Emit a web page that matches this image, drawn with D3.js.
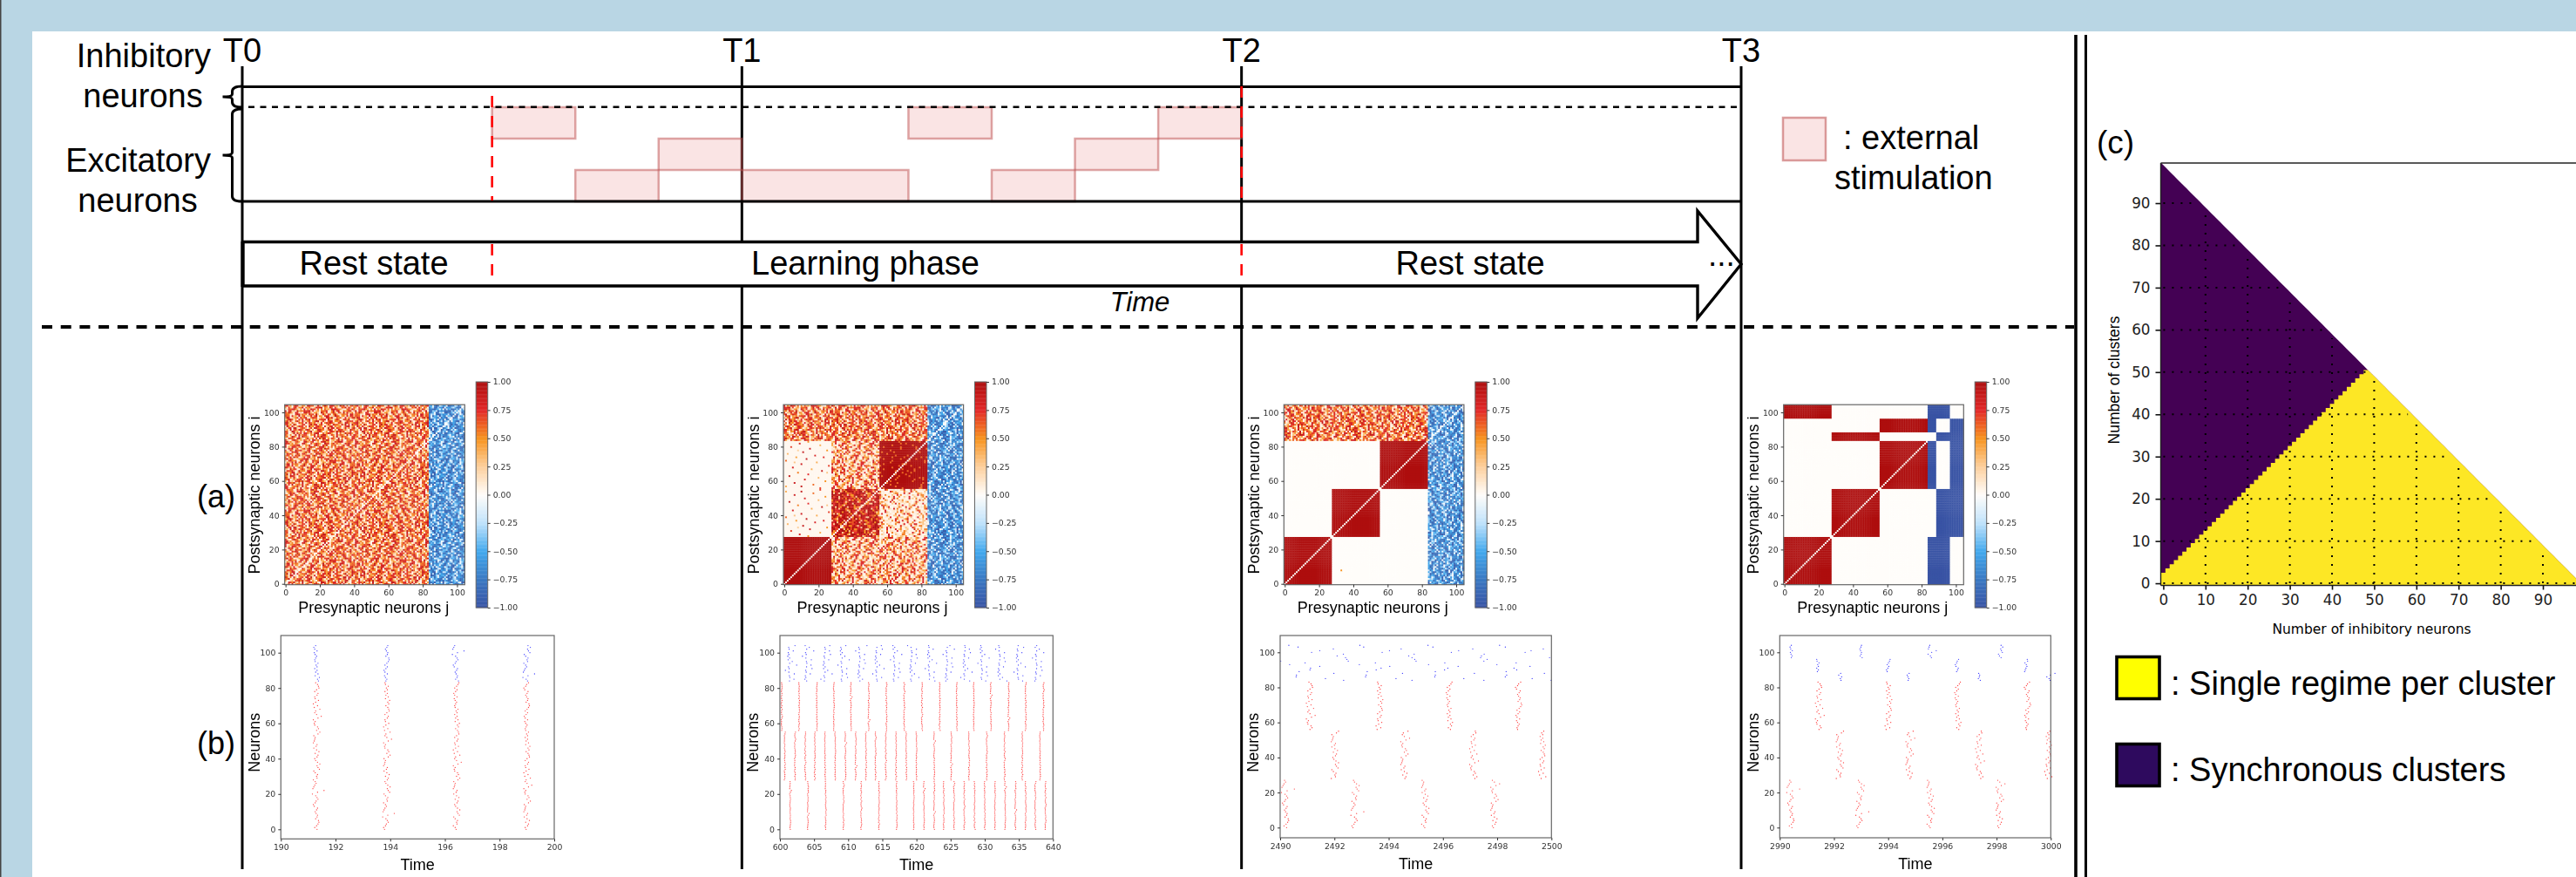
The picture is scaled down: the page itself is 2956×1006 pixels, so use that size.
<!DOCTYPE html>
<meta charset="utf-8">
<style type="text/css">
  html, body { margin: 0; padding: 0; background: #fff; overflow: hidden; }
  svg { display: block; }
</style>
<body></body>
<script src="https://d3js.org/d3.v7.min.js"></script>
<script>

// ---- values ----

var timeMarks = ["T0", "T1", "T2", "T3"];
var timeMarkSteps = [0, 6, 12, 18];
var learningBounds = [3, 12];                // red dashed lines, in steps
var stimRowTop = [[3, 4], [8, 9], [11, 12]];
var stimRowMid = [[5, 6], [10, 11]];
var stimRowLow = [[4, 5], [6, 8], [9, 10]];

var cbarTicks = [-1, -0.75, -0.5, -0.25, 0, 0.25, 0.5, 0.75, 1];
var cbarStops = ["#3953a4", "#3a78c2", "#42a9ee", "#bfe2fb", "#fffdfa", "#fdcf9c", "#f7931e", "#e2292a", "#ae1110"];
var neuronTicks = [0, 20, 40, 60, 80, 100];

// connectivity blocks. number = constant weight, letter = kind of noise
var groups3 = [28, 28, 28, 21];
var groups6 = [28, 28, 28, 5, 8, 8];
var blocksA = [["E", "E", "E", "B"], ["E", "E", "E", "B"], ["E", "E", "E", "B"], ["E", "E", "E", "B"]];
var blocksB = [[1, "M", "M", "B"], ["S", "D", "L", "B"], ["S", "M", "F", "B"], ["E", "E", "E", "B"]];
var blocksC = [[1, 0, 0, "B"], [0, 1, 0, "B"], [0, 0, 1, "B"], ["E", "E", "E", "B"]];
var blocksD = [
  [1, 0, 0, -1, -1, 0],
  [0, 1, 0, 0, -1, -1],
  [0, 0, 1, -1, 0, -1],
  [0, 1, 0, 0, -1, -1],
  [0, 0, 1, -1, 0, -1],
  [1, 0, 0, -1, -1, 0]
];
var straysC = [[8, 33, 0.5]];

// weights that one texture digit stands for, per kind of noise
var levelsE = [0.03, 0.1, 0.2, 0.32, 0.44, 0.54, 0.62, 0.7, 0.8, 0.9];
var levelsB = [-0.04, -0.2, -0.34, -0.44, -0.52, -0.6, -0.68, -0.76, -0.84, -0.94];
var levelsM = [0.03, 0.05, 0.08, 0.12, 0.2, 0.3, 0.45, 0.6, 0.75, 0.85];
var levelsL = [0.02, 0.03, 0.05, 0.06, 0.08, 0.1, 0.15, 0.3, 0.55, 0.8];
var levelsD = [1, 1, 1, 0.95, 0.9, 0.85, 0.75, 0.65, 0.5, 0.25];
var levelsF = [1, 1, 1, 1, 1, 1, 1, 1, 1, 0.6];

// red specks on the pale blocks of the second heatmap: row, column, weight inside the block
var specks = [[1, 9, 0.8], [2, 21, 0.4], [3, 4, 0.7], [4, 15, 0.85], [5, 25, 0.5], [6, 11, 0.9], [7, 2, 0.35], [8, 18, 0.8], [9, 7, 0.45], [9, 23, 0.75], [10, 13, 0.9], [11, 1, 0.6], [12, 19, 0.4], [13, 10, 0.85], [14, 26, 0.7], [15, 5, 0.8], [16, 16, 0.4], [17, 22, 0.9], [18, 8, 0.55], [19, 14, 0.75], [20, 3, 0.9], [21, 20, 0.35], [22, 12, 0.8], [23, 24, 0.5], [24, 6, 0.85], [25, 17, 0.6], [26, 1, 0.4], [26, 10, 0.9], [27, 21, 0.7], [0, 14, 0.5], [12, 6, 0.3], [5, 8, 0.25], [18, 25, 0.3]];

// hand typed stand-in for the cell noise, too fine to be read cell by cell from the picture
var noiseTile = [
  "82719046638157204996371845027763918205147",
  "17768302945518860273199640752381496027385",
  "60482957113706824519978312646095528713704",
  "97735164208941073586420977158363402869511",
  "24190673885279614038865126970418773520966",
  "76608341925703382691540798123976045182873",
  "13957082664818190475376620849532179680245",
  "88246715090367251894907163385124980476713",
  "59071938246681473027528849610773206915386",
  "30785460197295018666143072987856491328709",
  "91428873650142796503889415260637785014962",
  "67013928471885362799016358742190623957841",
  "25896140738076914352677809431586017749023",
  "78340697125409866128305961787342958160674",
  "04675218996723054987142086359810476225398",
  "96152830467188392074568917403675129908713",
  "38907465214950671482039276815463897021566",
  "71284096683327815960784160329587046713925",
  "56039741829664120838597743016292385640178",
  "89416320757092864613280586974117630985247",
  "12768953040815397726051634298875421067396",
  "65097284131746029581369702845130986754218",
  "40823176959368714205874319660527143892067",
  "97351802646029588134206785119648075321894",
  "28674039517841263097953240876186957402635",
  "83106975242753609846117598034269381065772",
  "09528314877160945278640823791534602789146",
  "74963087120896731452096371258407619283350",
  "36217549688402176938775014963852074196821"
];

// spike times
var burstsA = [191.29, 193.86, 196.41, 198.99];
var burstsB1 = [601.5, 604.1, 606.7, 609.3, 611.9, 614.5, 617.1, 619.6, 621.1, 622.6, 624, 625.5, 627, 628.5, 630, 631.5, 633, 634.5, 636, 637.4, 638.9];
var burstsB2 = [600.7, 602.2, 603.7, 605.1, 606.6, 608.1, 609.6, 611.1, 612.6, 614, 615.5, 617, 618.5, 620, 622.6, 625.1, 627.7, 630.3, 632.9, 635.5, 638.1];
var burstsB3 = [600.25, 602.8, 605.4, 607.9, 610.4, 613, 615.6, 618.2, 620.8, 623.4, 625.9, 628.4, 630.9, 633.5, 636, 638.6];
var burstsBI = [601.5, 604, 606.7, 609.2, 611.8, 614.3, 616.9, 619.4, 622, 624.6, 627.2, 629.7, 632.3, 635, 637.7];
var burstsC1 = [2490.2, 2492.76, 2495.33, 2497.88];
var burstsC2 = [2492, 2494.56, 2497.1, 2499.64];
var burstsC3 = [2491.08, 2493.65, 2496.22, 2498.79];
var burstsD1 = [2990.41, 2992.96, 2995.55, 2998.1];
var burstsD2 = [2992.2, 2994.77, 2997.34, 2999.89];
var burstsD3 = [2991.43, 2994, 2996.55, 2999.14];
var burstsDI1 = [2992.2, 2994.75, 2997.34, 2999.95];
var burstsDI2 = [2991.4, 2994, 2996.55, 2999.12];
var burstsDI3 = [2990.44, 2992.98, 2995.57, 2998.13];

// lone inhibitory spikes of the third raster, neuron 84 upwards, seconds after 2490
var spikesCI = [
  [2.34, 4.86, 7.51, 9.99], [1.67, 4.27, 6.77, 9.29], [0.59, 3.15, 5.7, 8.3], [0.6, 3.17, 5.72, 8.35],
  [1.98, 4.51, 7.16, 9.74], [0.7, 3.21, 5.72, 8.33], [1.1, 3.54, 6.06, 8.72], [1.12, 3.72, 6.18, 8.62],
  [1.46, 4.04, 6.56, 9.21], [0.35, 2.92, 5.47, 7.99], [0.92, 3.51, 6.07, 8.7], [0.02, 2.51, 5.01, 7.51],
  [2.46, 4.96, 7.63], [2.41, 4.86, 7.39, 9.93], [2.1, 4.74, 7.42], [2.33, 4.94, 7.52],
  [1.16, 3.76, 6.31, 9.03], [1.46, 4.03, 6.58, 9.25], [1.96, 4.46, 7.1, 9.7], [0.66, 3.08, 5.63, 8.3],
  [0.32, 2.94, 5.45, 8.09]
];

// spread of a neuron inside a burst, hundredths of a time unit
var jitterE = [2, -3, 1, 4, 6, 5, -1, 2, 3, 0, -2, 1, 3, -4, -6, -2, 0, 4, 2, -1, -8, 3, 17, -7, -5, -3, 0, -2, -6, 2, 1, 3, -2, -5, 7, 4, 2, 8, 3, -1, -3, 2, 4, -2, 6, 1, -5, 0, 2, -6, -4, -3, -2, -5, 4, 8, 1, 5, 3, -3, -4, -2, -6, 4, 11, 1, -3, -1, 8, -4, 3, -6, -1, 5, -2, -3, 2, 4, -3, 1, 6, 5, 3, -1, 5, 3, 7, -2, 4, -1, 2, -3, 2, 0, 4, -2, -3, -1, 1, -2, -4, 2, -3, -5, -1];
var jitterI = [-10, 55, -5, -12, 60, -20, -70, -15, -25, 95, -8, 30, -30, -8, -35, -20, -28, 45, -15, -22, 70];

// regime map: top of the yellow part and top of the whole column, inhibitory neurons 0 upwards
var regimeYellowTop = [1, 2, 3, 4, 5, 6, 7, 8, 9, 10, 11, 12, 13, 14, 15, 16, 17, 18, 19, 20, 21, 22, 23, 24, 25, 26, 27, 28, 29, 30, 31, 32, 33, 34, 35, 36, 37, 38, 39, 40, 41, 42, 43, 44, 45, 46, 47, 48, 49, 50, 51, 51, 51, 51, 51, 51, 51, 51, 51, 51, 51, 51, 51, 51, 51, 51, 51, 51, 51, 51, 51, 51, 51, 51, 51, 51, 51, 51, 51, 51, 51, 51, 51, 51, 51, 51, 51, 51, 51, 51, 51, 51, 51, 51, 51, 51, 51, 51, 51, 51];
var regimeColumnTop = [99, 98, 97, 96, 95, 94, 93, 92, 91, 90, 89, 88, 87, 86, 85, 84, 83, 82, 81, 80, 79, 78, 77, 76, 75, 74, 73, 72, 71, 70, 69, 68, 67, 66, 65, 64, 63, 62, 61, 60, 59, 58, 57, 56, 55, 54, 53, 52, 51, 50, 49, 48, 47, 46, 45, 44, 43, 42, 41, 40, 39, 38, 37, 36, 35, 34, 33, 32, 31, 30, 29, 28, 27, 26, 25, 24, 23, 22, 21, 20, 19, 18, 17, 16, 15, 14, 13, 12, 11, 10, 9, 8, 7, 6, 5, 4, 3, 2, 1, 0];
var regimeTicks = [0, 10, 20, 30, 40, 50, 60, 70, 80, 90];

// ---- page ----

var W = 2956, H = 1006;
var SANS = "'Liberation Sans', Arial, sans-serif";
var DEJA = "'DejaVu Sans', sans-serif";

var svg = d3.select("body").append("svg").attr("width", W).attr("height", H);

svg.append("rect").attr("width", W).attr("height", H).attr("fill", "#b9d6e4");
svg.append("rect").attr("x", 37).attr("y", 36).attr("width", W - 37).attr("height", H - 36).attr("fill", "#fff");
svg.append("rect").attr("width", 1.5).attr("height", H).attr("fill", "#444");

var defs = svg.append("defs");
defs.append("filter").attr("id", "soft").attr("x", "-5%").attr("y", "-5%").attr("width", "110%").attr("height", "110%")
  .append("feGaussianBlur").attr("stdDeviation", 0.5);

function label(g, txt, x, y, size, opts) {
  opts = opts || {};
  var t = g.append("text").attr("x", x).attr("y", y).text(txt)
    .attr("font-family", opts.family || SANS).attr("font-size", size)
    .attr("text-anchor", opts.anchor || "start").attr("fill", "#000");
  if (opts.italic) t.attr("font-style", "italic");
  if (opts.rotate) t.attr("transform", "rotate(-90," + x + "," + y + ")");
  return t;
}

// ---- timeline ----

var tx = d3.scaleLinear().domain([0, 18]).range([278, 1998]);
var rowY = d3.scaleLinear().domain([0, 3]).range([123, 231]);

var top_ = svg.append("g");

timeMarks.forEach(function (m, i) {
  var x = tx(timeMarkSteps[i]);
  label(top_, m, x, 71, 38, { anchor: "middle" });
  top_.append("line").attr("x1", x).attr("x2", x).attr("y1", 76).attr("y2", 997)
    .attr("stroke", "#000").attr("stroke-width", 3);
});

// stimulation boxes
[stimRowTop, stimRowMid, stimRowLow].forEach(function (row, r) {
  top_.selectAll("rect.stim-" + r).data(row).enter().append("rect")
    .attr("class", "stim-" + r)
    .attr("x", function (d) { return tx(d[0]); })
    .attr("width", function (d) { return tx(d[1]) - tx(d[0]); })
    .attr("y", rowY(r))
    .attr("height", rowY(r + 1) - rowY(r))
    .attr("fill", "rgba(232,120,120,0.2)")
    .attr("stroke", "rgba(190,80,80,0.5)")
    .attr("stroke-width", 2.5);
});

top_.append("line").attr("x1", 278).attr("x2", 1998).attr("y1", 99.5).attr("y2", 99.5).attr("stroke", "#000").attr("stroke-width", 3.2);
top_.append("line").attr("x1", 278).attr("x2", 1998).attr("y1", 231).attr("y2", 231).attr("stroke", "#000").attr("stroke-width", 3.2);
top_.append("line").attr("x1", 285).attr("x2", 1998).attr("y1", 122.7).attr("y2", 122.7)
  .attr("stroke", "#000").attr("stroke-width", 2.6).attr("stroke-dasharray", "7 6.5");

// braces
function brace(y0, y1) {
  var x = 266.5, m = (y0 + y1) / 2;
  return "M" + (x + 11) + "," + y0 + " Q" + x + "," + y0 + " " + x + "," + (y0 + 6) +
    " L" + x + "," + (m - 3) + " Q" + x + "," + m + " " + (x - 11) + "," + m +
    " Q" + x + "," + m + " " + x + "," + (m + 3) +
    " L" + x + "," + (y1 - 6) + " Q" + x + "," + y1 + " " + (x + 11) + "," + y1;
}
top_.append("path").attr("d", brace(99, 123)).attr("fill", "none").attr("stroke", "#000").attr("stroke-width", 3);
top_.append("path").attr("d", brace(125, 231)).attr("fill", "none").attr("stroke", "#000").attr("stroke-width", 3);

label(top_, "Inhibitory", 242, 77, 38, { anchor: "end" });
label(top_, "neurons", 164, 123, 38, { anchor: "middle" });
label(top_, "Excitatory", 242, 197, 38, { anchor: "end" });
label(top_, "neurons", 158, 243, 38, { anchor: "middle" });

// big arrow
top_.append("path")
  .attr("d", "M279,277.5 L1948,277.5 L1948,242 L1998,303 L1948,365 L1948,328 L279,328 Z")
  .attr("fill", "#fff").attr("stroke", "#000").attr("stroke-width", 3.4);

learningBounds.forEach(function (s) {
  var x = tx(s);
  var upper = s === 3 ? 110 : 99;
  top_.append("line").attr("x1", x).attr("x2", x).attr("y1", upper).attr("y2", 230)
    .attr("stroke", "#f00").attr("stroke-width", 2.6).attr("stroke-dasharray", "13 10");
  top_.append("line").attr("x1", x).attr("x2", x).attr("y1", 280).attr("y2", 326)
    .attr("stroke", "#f00").attr("stroke-width", 2.6).attr("stroke-dasharray", "13 10");
});

label(top_, "Rest state", 429, 315, 38, { anchor: "middle" });
label(top_, "Learning phase", 993, 315, 38, { anchor: "middle" });
label(top_, "Rest state", 1687, 315, 38, { anchor: "middle" });
label(top_, "...", 1960, 305, 37);
label(top_, "Time", 1308, 357, 31, { anchor: "middle", italic: true });

// T0 stays on top of the arrow's left edge
top_.append("line").attr("x1", 278).attr("x2", 278).attr("y1", 277).attr("y2", 329).attr("stroke", "#000").attr("stroke-width", 3);

top_.append("line").attr("x1", 48).attr("x2", 2380).attr("y1", 375).attr("y2", 375)
  .attr("stroke", "#000").attr("stroke-width", 4).attr("stroke-dasharray", "12 9.7");

// legend of the stimulation
top_.append("rect").attr("x", 2046).attr("y", 135).attr("width", 49).attr("height", 49)
  .attr("fill", "rgba(232,120,120,0.2)").attr("stroke", "rgba(190,80,80,0.55)").attr("stroke-width", 2.5);
label(top_, ": external", 2115, 171, 38);
label(top_, "stimulation", 2105, 217, 38);

// double separator
[2382, 2393.5].forEach(function (x, i) {
  svg.append("line").attr("x1", x).attr("x2", x).attr("y1", 40).attr("y2", H)
    .attr("stroke", "#000").attr("stroke-width", i ? 3 : 3.6);
});

label(svg, "(a)", 226, 582, 36);
label(svg, "(b)", 226, 865, 36);
label(svg, "(c)", 2406, 176, 37);

// ---- connectivity heatmaps ----

var weightColor = d3.scaleLinear().domain(cbarTicks).range(cbarStops);
var noiseLevels = { E: levelsE, B: levelsB, M: levelsM, L: levelsL, D: levelsD, F: levelsF };
var speckWeight = new Map(specks.map(function (s) { return [s[0] + "," + s[1], s[2]]; }));

function styleAxis(g) {
  g.select(".domain").remove();
  g.selectAll("line").attr("stroke", "#333").attr("stroke-width", 1);
  g.selectAll("text").attr("font-family", DEJA).attr("font-size", 9.3).attr("fill", "#333");
}

function weightAt(groups, blocks, i, j, shift) {
  var r = 0, c = 0, acc = groups[0];
  while (i >= acc) { acc += groups[++r]; }
  acc = groups[0];
  while (j >= acc) { acc += groups[++c]; }
  var b = blocks[r][c];
  if (typeof b === "number") return b;
  if (b === "S") {
    // the upper pale block is the speck list turned upside down
    var local = r === 2 ? 27 - (i % 28) : i % 28;
    return speckWeight.get(local + "," + (j % 28)) || 0.03;
  }
  // rows of the tile are taken out of order and every other one backwards, so no streaks show
  var row = noiseTile[(i * 11 + shift * 7) % noiseTile.length];
  var k = (j + shift * 11) % row.length;
  return noiseLevels[b][+row[i % 2 ? row.length - 1 - k : k]];
}

function heatmap(left, groups, blocks, shift, strays) {
  var g = svg.append("g").attr("filter", "url(#soft)");
  var x = d3.scaleLinear().domain([-0.5, 104.5]).range([left, left + 206.6]);
  var y = d3.scaleLinear().domain([-0.5, 104.5]).range([670.7, 464.2]);

  var cells = [];
  d3.range(105).forEach(function (i) {
    d3.range(105).forEach(function (j) {
      cells.push({ i: i, j: j, w: i === j ? 0 : weightAt(groups, blocks, i, j, shift) });
    });
  });
  (strays || []).forEach(function (s) { cells[s[0] * 105 + s[1]].w = s[2]; });

  g.selectAll("rect.cell").data(cells).enter().append("rect")
    .attr("class", "cell")
    .attr("x", function (d) { return x(d.j - 0.5); })
    .attr("y", function (d) { return y(d.i + 0.5); })
    .attr("width", x(1) - x(0) + 0.3)
    .attr("height", y(0) - y(1) + 0.3)
    .attr("fill", function (d) { return weightColor(d.w); });

  g.append("rect").attr("x", left).attr("y", 464.2).attr("width", 206.6).attr("height", 206.5)
    .attr("fill", "none").attr("stroke", "#666").attr("stroke-width", 1.2);

  g.append("g").attr("transform", "translate(0,670.7)")
    .call(d3.axisBottom(x).tickValues(neuronTicks).tickSize(3).tickPadding(3)).call(styleAxis);
  g.append("g").attr("transform", "translate(" + left + ",0)")
    .call(d3.axisLeft(y).tickValues(neuronTicks).tickSize(3).tickPadding(3)).call(styleAxis);

  label(g, "Presynaptic neurons j", left + 102, 703, 18, { anchor: "middle" });
  label(g, "Postsynaptic neurons i", left - 28.5, 568, 18, { anchor: "middle", rotate: true });

  // colour bar
  var cbX = left + 219.5, cbW = 13.5;
  var cb = d3.scaleLinear().domain([-1, 1]).range([697, 438]);
  g.selectAll("rect.cb").data(d3.range(-1, 1, 0.01)).enter().append("rect")
    .attr("class", "cb")
    .attr("x", cbX).attr("width", cbW)
    .attr("y", function (d) { return cb(d + 0.01); })
    .attr("height", cb(0) - cb(0.01) + 0.4)
    .attr("fill", function (d) { return weightColor(d + 0.005); });
  g.append("rect").attr("x", cbX).attr("y", 438).attr("width", cbW).attr("height", 259)
    .attr("fill", "none").attr("stroke", "#666").attr("stroke-width", 1);
  g.append("g").attr("transform", "translate(" + (cbX + cbW) + ",0)")
    .call(d3.axisRight(cb).tickValues(cbarTicks).tickFormat(d3.format(".2f")).tickSize(3).tickPadding(3)).call(styleAxis);
}

heatmap(326.7, groups3, blocksA, 0);
heatmap(899, groups3, blocksB, 1);
heatmap(1473.3, groups3, blocksC, 2, straysC);
heatmap(2046.7, groups6, blocksD, 3);

// ---- rasters ----

function burstSpikes(times, lo, hi, jitter, kind, spread) {
  var out = [];
  times.forEach(function (t, k) {
    d3.range(lo, hi + 1).forEach(function (n) {
      var offs = jitter[(n + k * 13) % jitter.length] / 100 * (spread || 1);
      out.push({ t: t + offs, n: n, kind: kind });
    });
  });
  return out;
}

function raster(opts) {
  var g = svg.append("g").attr("filter", "url(#soft)");
  var x = d3.scaleLinear().domain(opts.domain).range([opts.left, opts.right]);
  var y = d3.scaleLinear().domain([0, 100]).range([opts.y0, opts.y100]);

  g.selectAll("circle").data(opts.spikes).enter().append("circle")
    .attr("cx", function (d) { return x(d.t); })
    .attr("cy", function (d) { return y(d.n); })
    .attr("r", 0.65)
    .attr("fill", function (d) { return d.kind === "i" ? "#0000ff" : "#ff0000"; })
    .attr("fill-opacity", 0.75);

  g.append("rect").attr("x", opts.left).attr("y", 729)
    .attr("width", opts.right - opts.left).attr("height", opts.bottom - 729)
    .attr("fill", "none").attr("stroke", "#666").attr("stroke-width", 1.2);

  g.append("g").attr("transform", "translate(0," + opts.bottom + ")")
    .call(d3.axisBottom(x).tickValues(opts.ticks).tickFormat(d3.format("d")).tickSize(3).tickPadding(3)).call(styleAxis);
  g.append("g").attr("transform", "translate(" + opts.left + ",0)")
    .call(d3.axisLeft(y).tickValues(neuronTicks).tickSize(3).tickPadding(3)).call(styleAxis);

  label(g, "Time", (opts.left + opts.right) / 2 + 0, opts.bottom + 35.5, 18, { anchor: "middle" });
  label(g, "Neurons", opts.left - 24.5, 851.7, 18, { anchor: "middle", rotate: true });
}

raster({
  left: 322.3, right: 636, bottom: 962.3, y0: 951.3, y100: 748.7,
  domain: [190, 200], ticks: [190, 192, 194, 196, 198, 200],
  spikes: burstSpikes(burstsA, 0, 83, jitterE, "e", 1.7).concat(burstSpikes(burstsA, 84, 104, jitterE, "i", 1.7))
});

raster({
  left: 895, right: 1208.3, bottom: 962.3, y0: 951.3, y100: 748.7,
  domain: [600, 640], ticks: [600, 605, 610, 615, 620, 625, 630, 635, 640],
  spikes: burstSpikes(burstsB1, 0, 27, jitterE, "e")
    .concat(burstSpikes(burstsB2, 28, 55, jitterE, "e"))
    .concat(burstSpikes(burstsB3, 56, 83, jitterE, "e"))
    .concat(burstSpikes(burstsBI, 84, 104, jitterI, "i"))
});

var rasterCI = [];
spikesCI.forEach(function (times, k) {
  times.forEach(function (t) { rasterCI.push({ t: 2490 + t, n: 84 + k, kind: "i" }); });
});

raster({
  left: 1469, right: 1780.3, bottom: 961, y0: 949.3, y100: 748.3,
  domain: [2490, 2500], ticks: [2490, 2492, 2494, 2496, 2498, 2500],
  spikes: burstSpikes(burstsC1, 0, 27, jitterE, "e", 1.9)
    .concat(burstSpikes(burstsC2, 28, 55, jitterE, "e", 1.9))
    .concat(burstSpikes(burstsC3, 56, 83, jitterE, "e", 1.9))
    .concat(rasterCI)
});

raster({
  left: 2042.3, right: 2353.3, bottom: 961, y0: 949.3, y100: 748.3,
  domain: [2990, 3000], ticks: [2990, 2992, 2994, 2996, 2998, 3000],
  spikes: burstSpikes(burstsD1, 0, 27, jitterE, "e", 1.9)
    .concat(burstSpikes(burstsD2, 28, 55, jitterE, "e", 1.9))
    .concat(burstSpikes(burstsD3, 56, 83, jitterE, "e", 1.9))
    .concat(burstSpikes(burstsDI1, 84, 88, jitterE, "i", 1.2))
    .concat(burstSpikes(burstsDI2, 89, 96, jitterE, "i", 1.2))
    .concat(burstSpikes(burstsDI3, 97, 104, jitterE, "i", 1.2))
});

// ---- regime map ----

var rx = d3.scaleLinear().domain([-0.5, 99.5]).range([2480, 2964]);
var ry = d3.scaleLinear().domain([-0.5, 99.5]).range([671.5, 187]);
var reg = svg.append("g");

// whole triangle has a clean slanted edge, the regime split inside it is stepped
var wholeArea = d3.area()
  .x(function (d, i) { return rx(i - 0.5); })
  .y0(ry(-0.5))
  .y1(function (d) { return ry(d + 0.5); });
var splitArea = d3.area()
  .curve(d3.curveStepBefore)
  .x(function (d, i) { return rx(i - 0.5); })
  .y0(ry(-0.5))
  .y1(function (d) { return ry(d + 0.5); });

defs.append("clipPath").attr("id", "triangle").append("path").attr("d", wholeArea(regimeColumnTop));

reg.append("path").attr("d", wholeArea(regimeColumnTop)).attr("fill", "#440154");
reg.append("path").attr("d", splitArea(regimeYellowTop)).attr("fill", "#fde725")
  .attr("clip-path", "url(#triangle)");

// dotted grid stays inside the triangle
regimeTicks.forEach(function (k) {
  var top = regimeColumnTop[k];
  reg.append("line").attr("x1", rx(0)).attr("x2", rx(top - 1)).attr("y1", ry(k)).attr("y2", ry(k))
    .attr("stroke", "#000").attr("stroke-width", 2).attr("stroke-dasharray", "2 8");
  if (k > 0) {
    reg.append("line").attr("x1", rx(k)).attr("x2", rx(k)).attr("y1", ry(0)).attr("y2", ry(top - 1))
      .attr("stroke", "#000").attr("stroke-width", 2).attr("stroke-dasharray", "2 8");
  }
});

reg.append("line").attr("x1", 2479.5).attr("x2", W).attr("y1", 187).attr("y2", 187).attr("stroke", "#222").attr("stroke-width", 1.6);
reg.append("line").attr("x1", 2479.5).attr("x2", 2479.5).attr("y1", 187).attr("y2", 671.5).attr("stroke", "#222").attr("stroke-width", 1.4);
reg.append("line").attr("x1", 2479.5).attr("x2", W).attr("y1", 671.5).attr("y2", 671.5).attr("stroke", "#222").attr("stroke-width", 1.4);

function styleRegAxis(g) {
  g.select(".domain").remove();
  g.selectAll("line").attr("stroke", "#111").attr("stroke-width", 1.6);
  g.selectAll("text").attr("font-family", DEJA).attr("font-size", 16.8).attr("fill", "#222");
}
reg.append("g").attr("transform", "translate(0,671.5)")
  .call(d3.axisBottom(rx).tickValues(regimeTicks).tickSize(5).tickPadding(6)).call(styleRegAxis);
reg.append("g").attr("transform", "translate(2479.5,0)")
  .call(d3.axisLeft(ry).tickValues(regimeTicks).tickSize(6).tickPadding(6)).call(styleRegAxis);

label(reg, "Number of inhibitory neurons", 2721.5, 727, 15.5, { anchor: "middle", family: DEJA });
label(reg, "Number of clusters", 2432, 436, 17.5, { anchor: "middle", rotate: true, family: SANS });

// legend of the regimes
reg.append("rect").attr("x", 2429).attr("y", 753.5).attr("width", 49).attr("height", 48)
  .attr("fill", "#ffff00").attr("stroke", "#000").attr("stroke-width", 3.6);
reg.append("rect").attr("x", 2429).attr("y", 853.5).attr("width", 49).attr("height", 48)
  .attr("fill", "#2e0a5e").attr("stroke", "#000").attr("stroke-width", 3.6);
label(reg, ": Single regime per cluster", 2491, 797, 38);
label(reg, ": Synchronous clusters", 2491, 896, 38);

</script>
